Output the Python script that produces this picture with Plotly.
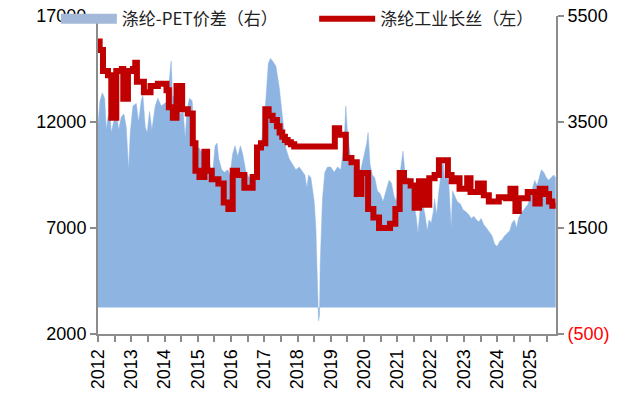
import plotly.graph_objects as go

# ---- data ----
# 涤纶-PET价差（右）: decimal year, value (right axis)
spread_t = [2012.00, 2012.06, 2012.13, 2012.20, 2012.25, 2012.30, 2012.36, 2012.40, 2012.47, 2012.55,
            2012.62, 2012.70, 2012.78, 2012.85, 2012.92, 2012.97, 2013.05, 2013.15, 2013.22, 2013.30,
            2013.35, 2013.42, 2013.48, 2013.55, 2013.62, 2013.72, 2013.80, 2013.90, 2014.00, 2014.10,
            2014.16, 2014.20, 2014.24, 2014.30, 2014.40, 2014.48, 2014.56, 2014.62, 2014.68, 2014.75,
            2014.83, 2014.88, 2014.95, 2015.05, 2015.15, 2015.22, 2015.30, 2015.38, 2015.45, 2015.52,
            2015.58, 2015.63, 2015.72, 2015.80, 2015.90, 2015.97, 2016.05, 2016.12, 2016.20, 2016.28,
            2016.35, 2016.45, 2016.55, 2016.65, 2016.75, 2016.82, 2016.90, 2016.97, 2017.05, 2017.12,
            2017.18, 2017.25, 2017.35, 2017.45, 2017.52, 2017.58, 2017.65, 2017.75, 2017.85, 2017.95,
            2018.05, 2018.15, 2018.22, 2018.28, 2018.33, 2018.40, 2018.45, 2018.50, 2018.55, 2018.60,
            2018.63, 2018.66, 2018.68, 2018.75, 2018.82, 2018.90, 2019.00, 2019.10, 2019.20, 2019.30,
            2019.40, 2019.45, 2019.50, 2019.58, 2019.66, 2019.75, 2019.83, 2019.92, 2020.00, 2020.08,
            2020.12, 2020.18, 2020.25, 2020.32, 2020.40, 2020.48, 2020.57, 2020.67, 2020.75, 2020.82,
            2020.90, 2020.97, 2021.05, 2021.12, 2021.17, 2021.22, 2021.27, 2021.35, 2021.42, 2021.50,
            2021.57, 2021.62, 2021.67, 2021.72, 2021.78, 2021.83, 2021.90, 2021.95, 2022.02, 2022.08,
            2022.12, 2022.18, 2022.25, 2022.32, 2022.37, 2022.42, 2022.48, 2022.55, 2022.62, 2022.66,
            2022.72, 2022.80, 2022.90, 2022.97, 2023.07, 2023.15, 2023.22, 2023.30, 2023.38, 2023.45,
            2023.52, 2023.60, 2023.68, 2023.77, 2023.85, 2023.92, 2024.00, 2024.08, 2024.15, 2024.22,
            2024.30, 2024.38, 2024.45, 2024.52, 2024.58, 2024.65, 2024.72, 2024.80, 2024.87, 2024.93,
            2025.00, 2025.07, 2025.13, 2025.20, 2025.27, 2025.33, 2025.40, 2025.48, 2025.55, 2025.62,
            2025.70, 2025.76]
spread_v = [3450, 3900, 4050, 3950, 3350, 3600, 3650, 3300, 3500, 3700,
            3350, 3600, 3650, 3400, 2600, 3300, 3800, 3850, 3500, 3900,
            4000, 3400, 3300, 3700, 3350, 3800, 3950, 3800, 3850, 3900,
            4400, 4650, 4000, 3950, 3800, 3650, 3700, 3200, 3750, 3950,
            3900, 3400, 3050, 3000, 2900, 2650, 2900, 2650, 2550, 3050,
            3100, 2800, 2600, 2550, 2600, 2500, 2900, 3050, 2850, 3050,
            2900, 2550, 2450, 2400, 2600, 2800, 3050, 3400, 3950, 4600,
            4700, 4650, 4550, 4150, 3700, 3350, 3000, 2800, 2700, 2600,
            2650, 2550, 2500, 2250, 2500, 2450, 2200, 2000, 1500, 600,
            -250, -150, 800, 2050, 2550, 2650, 2650, 2550, 2650, 2600,
            3100, 3800, 3300, 2900, 2700, 2550, 2450, 2650, 2900, 3100,
            3300, 2700, 2500, 2450, 2200, 2150, 2000, 2250, 2400, 2350,
            2100, 2000, 2400, 2800, 2950, 2600, 2450, 2450, 2300, 1950,
            1700, 1400, 1800, 2100, 1900, 1750, 1450, 1650, 1600, 1800,
            2050, 1750, 2200, 2500, 2800, 2400, 2550, 2300, 1500, 2200,
            2100, 2000, 1950, 1850, 1800, 1750, 1680, 1720, 1650, 1620,
            1680, 1560, 1500, 1420, 1350, 1200, 1150, 1250, 1280, 1350,
            1400, 1450, 1600, 1650, 1500, 1700, 1780, 1850, 1900, 1950,
            2100, 2250, 2400, 2300, 2450, 2600, 2550, 2450, 2400, 2450,
            2500, 2450]

# 涤纶工业长丝（左）: decimal year, value (left axis), step changes
yarn_t = [2012.00, 2012.05, 2012.15, 2012.30, 2012.40, 2012.55, 2012.72, 2012.76, 2012.90, 2013.05,
          2013.12, 2013.17, 2013.38, 2013.58, 2013.80, 2014.06, 2014.13, 2014.25, 2014.36, 2014.53,
          2014.70, 2014.85, 2014.93, 2015.05, 2015.20, 2015.28, 2015.42, 2015.62, 2015.78, 2015.92,
          2016.05, 2016.18, 2016.40, 2016.65, 2016.78, 2016.90, 2017.03, 2017.13, 2017.25, 2017.38,
          2017.46, 2017.54, 2017.62, 2017.70, 2017.80, 2017.90, 2019.12, 2019.25, 2019.45, 2019.62,
          2019.78, 2019.92, 2020.12, 2020.28, 2020.45, 2020.78, 2020.94, 2021.07, 2021.20, 2021.40,
          2021.52, 2021.65, 2021.78, 2021.96, 2022.12, 2022.25, 2022.52, 2022.63, 2022.78, 2022.87,
          2023.10, 2023.20, 2023.42, 2023.60, 2023.75, 2024.05, 2024.27, 2024.40, 2024.55, 2024.65,
          2024.92, 2025.15, 2025.28, 2025.45, 2025.56, 2025.66, 2025.76]
yarn_v = [15800, 15400, 14400, 14200, 12200, 14400, 14500, 13100, 14400, 14500,
          14800, 13900, 13400, 13700, 13800, 13500, 12700, 12200, 13700, 12600,
          12400, 11000, 9700, 9400, 10600, 9700, 9300, 9100, 8200, 7900,
          9700, 9500, 8900, 9400, 10800, 11000, 12600, 12300, 12100, 11800,
          11500, 11300, 11150, 11050, 10950, 10850, 11700, 11400, 10300, 10100,
          8600, 9600, 7900, 7500, 7000, 7200, 7900, 9600, 9200, 9000,
          7950, 9200, 8100, 9350, 9500, 10200, 9500, 9200, 9350, 8850,
          9350, 8700, 9100, 8550, 8250, 8450, 8400, 8850, 7800, 8400,
          8700, 8150, 8850, 8600, 8250, 8050, 8050]

years = list(range(2012, 2026))
left_ticks = [2000, 7000, 12000, 17000]
left_ticktext = ["2000", "7000", "12000", "17000"]
right_ticks = [-500, 1500, 3500, 5500]
right_ticktext = ["<span style='color:#FF0000'>(500)</span>", "1500", "3500", "5500"]

FONT = "Liberation Sans, Arial, Noto Sans CJK SC, sans-serif"
AXIS_GREY = "#8C8C8C"
AREA = "#8EB4E2"
LEG_FONT = dict(family="Noto Sans CJK SC, sans-serif", size=17, color="#222222")

fig = go.Figure()
fig.add_trace(go.Scatter(
    x=spread_t, y=spread_v, name="涤纶-PET价差（右）", legendgroup="spread", showlegend=False,
    mode="lines", fill="tozeroy", fillcolor=AREA,
    line=dict(color=AREA, width=0.5), yaxis="y",
))
# legend entry for the area series (block swatch)
fig.add_trace(go.Scatter(
    x=[None], y=[None], name="涤纶-PET价差（右）", legendgroup="spread", legend="legend",
    mode="lines", line=dict(color="#A4B9DA", width=16), yaxis="y",
))
fig.add_trace(go.Scatter(
    x=yarn_t, y=yarn_v, name="涤纶工业长丝（左）", legend="legend2",
    mode="lines", line=dict(color="#C00000", width=6, shape="hv"), yaxis="y2",
))

fig.update_layout(
    width=624, height=404,
    margin=dict(l=98, r=68, t=16, b=70, autoexpand=False),
    paper_bgcolor="white", plot_bgcolor="white",
    font=dict(family=FONT, size=18, color="#000000"),
    hovermode=False,
    showlegend=True,
    legend=dict(orientation="h", x=-0.092, xanchor="left", y=0.99, yanchor="middle",
                bgcolor="rgba(0,0,0,0)", itemwidth=56, font=LEG_FONT),
    legend2=dict(orientation="h", x=0.472, xanchor="left", y=0.99, yanchor="middle",
                 bgcolor="rgba(0,0,0,0)", itemwidth=56, font=LEG_FONT),
    xaxis=dict(range=[2012, 2025.77], tickmode="array", tickvals=years,
               ticktext=[str(y) for y in years], tickangle=-90,
               ticks="outside", ticklen=6, tickcolor=AXIS_GREY, tickwidth=1.5,
               minor=dict(tickmode="linear", tick0=2012.5, dtick=1, ticks="outside",
                          ticklen=6, tickcolor=AXIS_GREY, tickwidth=1.5),
               showline=True, linecolor=AXIS_GREY, linewidth=2, showgrid=False, zeroline=False,
               tickfont=dict(size=18)),
    yaxis=dict(side="right", range=[-500, 5500], tickmode="array", tickvals=right_ticks,
               ticktext=right_ticktext, ticks="outside", ticklen=6, tickcolor=AXIS_GREY,
               tickwidth=1.5, showline=True, linecolor=AXIS_GREY, linewidth=2,
               showgrid=False, zeroline=False, ticklabeloverflow="allow"),
    yaxis2=dict(side="left", overlaying="y", range=[2000, 17000], tickmode="array",
                tickvals=left_ticks, ticktext=left_ticktext, ticks="outside", ticklen=6,
                tickcolor=AXIS_GREY, tickwidth=1.5, showline=True, linecolor=AXIS_GREY,
                linewidth=2, showgrid=False, zeroline=False, ticklabeloverflow="allow"),
)

# remove the page's default body margin so the figure fills the window exactly
fig.write_html("out.html", config={"displayModeBar": False},
               post_script="document.body.style.margin='0px';")
